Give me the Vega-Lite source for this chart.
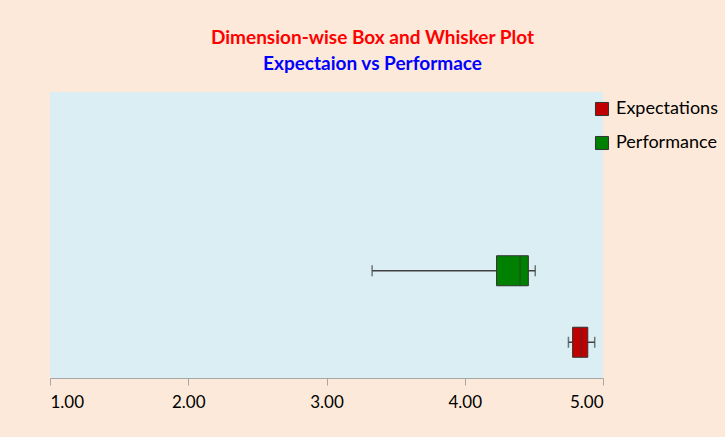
{
  "$schema": "https://vega.github.io/schema/vega-lite/v6.json",
  "width": 553,
  "height": 286,
  "autosize": {"type": "none"},
  "padding": {"left": 50, "top": 92, "right": 122, "bottom": 59},
  "background": "#FDE9D9",
  "config": {
    "view": {"fill": "#DAEEF3", "stroke": null},
    "font": "Lato"
  },
  "title": {
    "text": "Dimension-wise Box and Whisker Plot",
    "subtitle": "Expectaion vs Performace",
    "color": "#FF0000",
    "subtitleColor": "#0000FF",
    "fontSize": 19,
    "subtitleFontSize": 19,
    "fontWeight": "bold",
    "subtitleFontWeight": "bold",
    "font": "Lato",
    "subtitleFont": "Lato",
    "anchor": "middle",
    "dx": 46,
    "offset": 18,
    "subtitlePadding": 7
  },
  "data": {
    "values": [
      {"group": "Performance", "min": 3.33, "q1": 4.23, "median": 4.40, "q3": 4.46, "max": 4.51},
      {"group": "Expectations", "min": 4.75, "q1": 4.78, "median": 4.84, "q3": 4.89, "max": 4.94}
    ]
  },
  "encoding": {
    "y": {
      "field": "group",
      "type": "nominal",
      "scale": {"domain": ["a", "b", "Performance", "Expectations"], "paddingInner": 0.58, "paddingOuter": 0.29},
      "axis": null
    }
  },
  "layer": [
    {
      "mark": {"type": "rule", "color": "#404040", "strokeWidth": 1.5},
      "encoding": {
        "x": {"field": "min", "type": "quantitative"},
        "x2": {"field": "max"}
      }
    },
    {
      "mark": {"type": "tick", "color": "#404040", "size": 11, "thickness": 1.5},
      "encoding": {"x": {"field": "min", "type": "quantitative"}}
    },
    {
      "mark": {"type": "tick", "color": "#404040", "size": 11, "thickness": 1.5},
      "encoding": {"x": {"field": "max", "type": "quantitative"}}
    },
    {
      "mark": {"type": "bar", "stroke": "#333333", "strokeWidth": 1, "cornerRadius": 0},
      "encoding": {
        "x": {
          "field": "q1",
          "type": "quantitative",
          "scale": {"domain": [1, 5], "nice": false, "zero": false},
          "axis": {
            "values": [1, 2, 3, 4, 5],
            "format": ".2f",
            "title": null,
            "grid": false,
            "domainColor": "#A6A6A6",
            "tickColor": "#A6A6A6",
            "tickSize": 7,
            "labelFontSize": 17,
            "labelColor": "#000000",
            "labelPadding": 9,
            "labelFont": "Lato"
          }
        },
        "x2": {"field": "q3"},
        "color": {
          "field": "group",
          "type": "nominal",
          "scale": {"domain": ["Expectations", "Performance"], "range": ["#C00000", "#008000"]},
          "legend": {
            "title": null,
            "orient": "none",
            "legendX": 543,
            "legendY": 8,
            "symbolType": "square",
            "symbolSize": 170,
            "symbolStrokeColor": "#333333",
            "symbolStrokeWidth": 1,
            "labelFontSize": 18,
            "labelFont": "Lato",
            "labelColor": "#000000",
            "rowPadding": 16,
            "labelOffset": 5
          }
        }
      }
    },
    {
      "mark": {"type": "tick", "color": "#333333", "size": 30, "thickness": 1},
      "encoding": {"x": {"field": "median", "type": "quantitative"}}
    }
  ]
}
